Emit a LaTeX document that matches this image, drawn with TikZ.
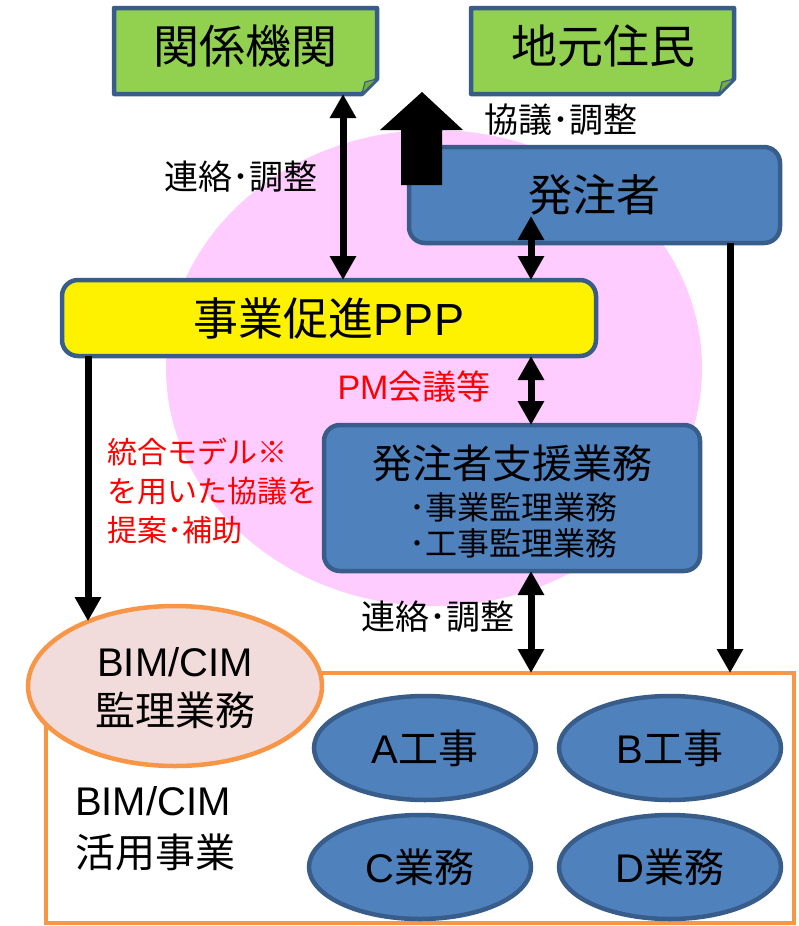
\documentclass[tikz,border=0pt]{standalone}
\usepackage{fontspec}
\setmainfont{Liberation Sans}
\newfontfamily\jp{Noto Sans CJK JP}
\usetikzlibrary{arrows.meta,shapes.geometric}
\definecolor{gfill}{HTML}{92D050}
\definecolor{gfold}{HTML}{76AD3D}
\definecolor{bline}{HTML}{385D8A}
\definecolor{bfill}{HTML}{4F81BD}
\definecolor{pinkbg}{HTML}{FFCCFF}
\definecolor{efill}{HTML}{F2DCDB}
\definecolor{oline}{HTML}{F79646}
\definecolor{redtxt}{HTML}{FF0000}
\begin{document}
\begin{tikzpicture}[x=1pt,y=-1pt,
  every node/.style={inner sep=0pt,outer sep=0pt},
  greenframe/.style={fill=gfill,draw=bline,line width=4.5pt,line join=round},
  foldpiece/.style={fill=gfold,draw=bline,line width=1.2pt,line join=round},
  bluebox/.style={rectangle,rounded corners=16pt,fill=bfill,draw=bline,line width=4.5pt},
  yellowbox/.style={rectangle,rounded corners=16pt,fill=yellow,draw=bline,line width=4.5pt},
  ovalblue/.style={ellipse,fill=bfill,draw=bline,line width=4.5pt,minimum width=222pt,minimum height=104pt,font=\fontsize{40}{48}\selectfont},
  dblarrow/.style={line width=7pt,{Triangle[width=25pt,length=24pt]}-{Triangle[width=25pt,length=24pt]}},
  onearrow/.style={line width=7pt,-{Triangle[width=25pt,length=24pt]}},
  titletxt/.style={font=\fontsize{46}{55}\selectfont\jp},
  labeltxt/.style={font=\fontsize{34}{40}\selectfont\jp},
  redlabel/.style={text=redtxt,font=\fontsize{34}{40}\selectfont},
]
\useasboundingbox (0,0) rectangle (798,926);

% pink background
\fill[pinkbg] (434,368) ellipse [x radius=268pt,y radius=238pt];

% column coordinates
\coordinate (c1) at (343,0);
\coordinate (c2) at (531,0);
\coordinate (c3) at (730,0);
\coordinate (c4) at (88,0);

% BIM/CIM project frame
\node[draw=oline,line width=4pt,minimum width=748pt,minimum height=250pt] (jigyo) at (420,798) {};
\node[anchor=west,align=left,font=\fontsize{40}{52}\selectfont] (jigyot) at (75,829) {BIM/CIM\\{\jp 活用事業}};

% BIM/CIM supervision ellipse
\node[ellipse,fill=efill,draw=oline,line width=4.5pt,minimum width=294pt,minimum height=160pt] (bim) at (175,686) {};
\node[font=\fontsize{40}{48}\selectfont] (bim1) at (175,662) {BIM/CIM};
\node[font=\fontsize{40}{48}\selectfont\jp] (bim2) at (175,710) {監理業務};

% works
\node[ovalblue] (wa) at (425,748) {A{\jp 工事}};
\node[ovalblue] (wb) at (670,748) {B{\jp 工事}};
\node[ovalblue] (wc) at (420,867) {C{\jp 業務}};
\node[ovalblue] (wd) at (670,867) {D{\jp 業務}};

% green boxes
\node[minimum width=263pt,minimum height=86pt] (kankei) at (245.5,51) {};
\draw[greenframe] (kankei.north west) -- (kankei.north east) -- ([yshift=15pt]kankei.south east) -- ([xshift=-15pt]kankei.south east) -- (kankei.south west) -- cycle;
\draw[foldpiece] ([xshift=-15pt]kankei.south east) -- ([xshift=-12pt,yshift=12pt]kankei.south east) -- ([yshift=15pt]kankei.south east) -- cycle;
\node[titletxt] (kankeit) at (245.5,46) {関係機関};

\node[minimum width=263pt,minimum height=86pt] (jimoto) at (602.5,51) {};
\draw[greenframe] (jimoto.north west) -- (jimoto.north east) -- ([yshift=15pt]jimoto.south east) -- ([xshift=-15pt]jimoto.south east) -- (jimoto.south west) -- cycle;
\draw[foldpiece] ([xshift=-15pt]jimoto.south east) -- ([xshift=-12pt,yshift=12pt]jimoto.south east) -- ([yshift=15pt]jimoto.south east) -- cycle;
\node[titletxt] (jimotot) at (603,46) {地元住民};

% orderer
\node[bluebox,minimum width=371pt,minimum height=96pt,font=\fontsize{44}{52}\selectfont\jp] (hatchu) at (594.5,195) {発注者};

% PPP
\node[yellowbox,minimum width=534pt,minimum height=76pt,font=\fontsize{45}{52}\selectfont] (ppp) at (329,318) {{\jp 事業促進}PPP};

% orderer support
\node[bluebox,minimum width=376pt,minimum height=146pt] (shien) at (512,498) {};
\node[font=\fontsize{40}{48}\selectfont\jp] (shient) at (512,463) {発注者支援業務};
\node[font=\fontsize{32}{38}\selectfont\jp] (shien1) at (513,507) {･事業監理業務};
\node[font=\fontsize{32}{38}\selectfont\jp] (shien2) at (513,543) {･工事監理業務};

% connectors
\draw[dblarrow] (kankei.south -| c1) -- (ppp.north -| c1);
\draw[dblarrow] ([yshift=27pt]hatchu.south -| c2) -- (ppp.north -| c2);
\draw[dblarrow] (ppp.south -| c2) -- (shien.north -| c2);
\draw[dblarrow] (shien.south -| c2) -- (jigyo.north -| c2);
\draw[onearrow] (hatchu.south -| c3) -- (jigyo.north -| c3);
\draw[onearrow] (ppp.south -| c4) -- (c4 |- bim.143.5);

% block arrow towards residents
\fill[black] (401,185) -- (401,130) -- (380,130) -- (422,92) -- (463,130) -- (442,130) -- (442,185) -- cycle;

% labels
\node[labeltxt] (kyogi) at (561,120) {協議･調整};
\node[labeltxt] (renraku1) at (241,177) {連絡･調整};
\node[labeltxt] (renraku2) at (437.5,617) {連絡･調整};
\node[redlabel] (pm) at (414,387) {PM{\jp 会議等}};
\node[anchor=west,align=left,text=redtxt,font=\fontsize{30}{39}\selectfont\jp] (teian) at (107,491) {統合モデル※\\を用いた協議を\\提案･補助};
\end{tikzpicture}
\end{document}
